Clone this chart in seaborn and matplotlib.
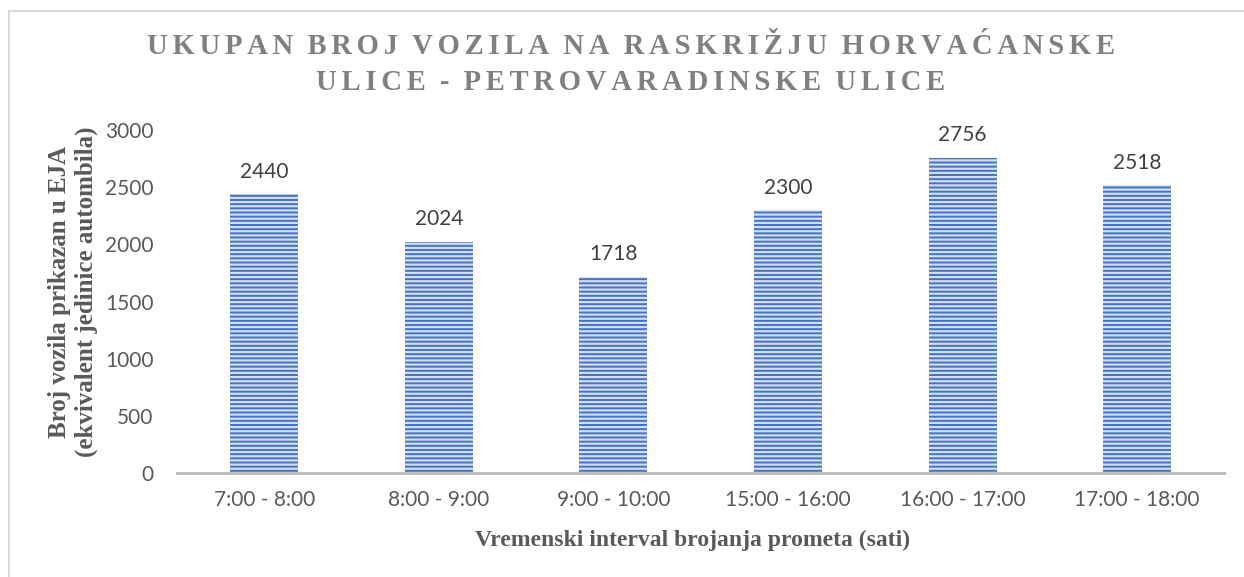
import pandas as pd
import seaborn as sns
import matplotlib.pyplot as plt
from matplotlib.lines import Line2D

# chart data
intervals = ["7:00 - 8:00", "8:00 - 9:00", "9:00 - 10:00",
             "15:00 - 16:00", "16:00 - 17:00", "17:00 - 18:00"]
vehicles = [2440, 2024, 1718, 2300, 2756, 2518]
y_ticks = [0, 500, 1000, 1500, 2000, 2500, 3000]

title_lines = ["UKUPAN BROJ VOZILA NA RASKRIŽJU HORVAĆANSKE",
               "ULICE - PETROVARADINSKE ULICE"]
x_label = "Vremenski interval brojanja prometa (sati)"
y_label = "Broj vozila prikazan u EJA\n(ekvivalent jedinice autombila)"

SERIF = ["Liberation Serif", "DejaVu Serif"]


def spaced(text):
    """Fake letter spacing like the Excel title."""
    return "\u2004\u2006".join("\u2006".join(word) for word in text.split(" "))


def main():
    df = pd.DataFrame({"interval": intervals, "vozila": vehicles})

    sns.set_style("white")
    plt.rcParams["hatch.linewidth"] = 1.6

    fig = plt.figure(figsize=(12.44, 5.77), dpi=100)
    ax = fig.add_axes([0.1423, 0.1802, 0.8420, 0.5945])

    sns.barplot(data=df, x="interval", y="vozila", ax=ax, width=0.39,
                color="#4472C4", saturation=1, linewidth=0)
    for bar in ax.patches:
        bar.set_hatch("----")
        bar.set_edgecolor("#d3ddf2")
        bar.set_linewidth(0)

    # data labels
    for bar, val in zip(ax.patches, vehicles):
        ax.annotate(str(val), (bar.get_x() + bar.get_width() / 2, val),
                    xytext=(0, 9), textcoords="offset points",
                    ha="center", va="bottom", fontsize=15,
                    family="Lato", color="#404040")

    ax.set_ylim(0, 3000)
    ax.set_xlim(-0.5, 5.5)
    ax.set_yticks(y_ticks)
    ax.tick_params(axis="both", length=0, labelsize=15, colors="#595959")
    ax.tick_params(axis="y", pad=17)
    ax.tick_params(axis="x", pad=12)
    for lbl in ax.get_xticklabels() + ax.get_yticklabels():
        lbl.set_family("Lato")

    for side in ["top", "right", "left"]:
        ax.spines[side].set_visible(False)
    ax.spines["bottom"].set_color("#BFBFBF")
    ax.spines["bottom"].set_linewidth(2.2)

    ax.set_xlabel("")
    ax.set_ylabel("")
    fig.text(693 / 1244, 1 - 540 / 577, x_label, ha="center", va="center",
             family=SERIF, fontweight="bold", fontsize=17, color="#595959")
    fig.text(73 / 1244, 1 - 292 / 577, y_label, ha="center", va="center",
             rotation=90, multialignment="center", linespacing=1.15,
             family=SERIF, fontweight="bold", fontsize=18, color="#595959")

    # title with letter spacing
    fig.text(0.507, 1 - 46 / 577, spaced(title_lines[0]), ha="center",
             va="center", family=SERIF, fontweight="bold",
             fontsize=20.6, color="#808080")
    fig.text(0.507, 1 - 83 / 577, spaced(title_lines[1]), ha="center",
             va="center", family=SERIF, fontweight="bold",
             fontsize=20.6, color="#808080")

    # chart area border (top and left visible)
    fig.add_artist(Line2D([9 / 1244, 1], [1 - 11 / 577, 1 - 11 / 577],
                          color="#D9D9D9", linewidth=1.5))
    fig.add_artist(Line2D([9 / 1244, 9 / 1244], [0, 1 - 11 / 577],
                          color="#D9D9D9", linewidth=1.5))

    fig.savefig("out.png", dpi=100)
    plt.close(fig)


if __name__ == "__main__":
    main()
